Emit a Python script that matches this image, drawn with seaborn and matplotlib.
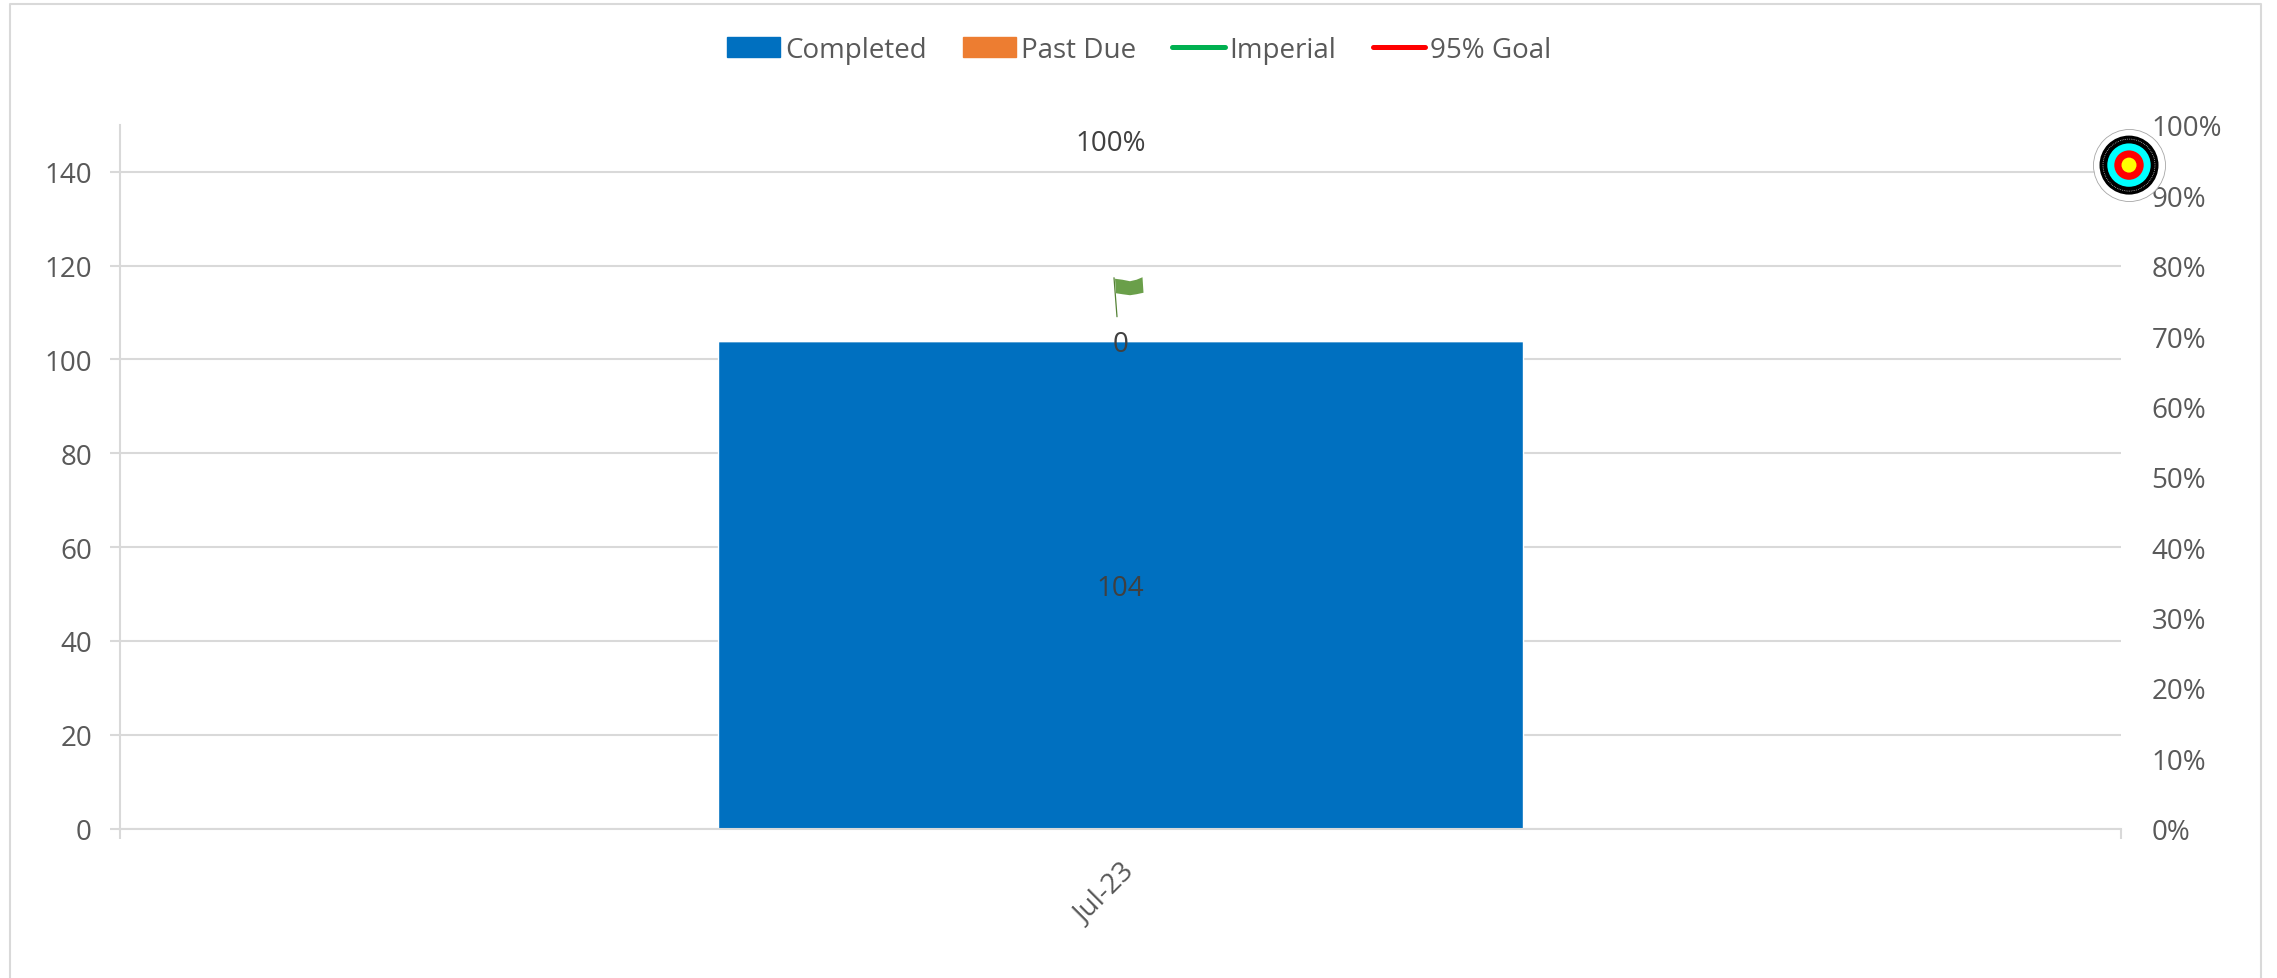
import seaborn as sns
import pandas as pd
from matplotlib import pyplot as plt
from matplotlib.lines import Line2D
from matplotlib.patches import Patch, Polygon
from matplotlib.transforms import Affine2D

# datos
months = ['Jul-23']
completed = [104]
past_due = [0]
imperial = [1.00]
goal = [0.943]
left_ticks = [0, 20, 40, 60, 80, 100, 120, 140]
right_ticks = [0, .1, .2, .3, .4, .5, .6, .7, .8, .9, 1]

W, H = 2277, 979
GRIS = '#D9D9D9'
TXT = '#595959'
LBL = '#404040'
FS = 20

sns.set_theme(style='white')
plt.rcParams['font.family'] = ['Open Sans', 'DejaVu Sans']

df = pd.DataFrame({'month': months, 'completed': completed, 'past_due': past_due})

fig = plt.figure(figsize=(W / 100, H / 100), dpi=100)
ax = fig.add_axes([120 / W, 1 - 829.5 / H, 2001 / W, 703.5 / H])

sns.barplot(data=df, x='month', y='completed', color='#0070C0', width=0.402, saturation=1, ax=ax, zorder=2)
sns.barplot(data=df, x='month', y='past_due', bottom=df['completed'], color='#ED7D31', width=0.402,
            saturation=1, ax=ax, zorder=2)

ax.set_xlim(-0.5, 0.5)
ax.set_ylim(0, 150)
ax.set_yticks(left_ticks)
ax.set_xlabel('')
ax.set_ylabel('')
ax.set_axisbelow(True)
ax.yaxis.grid(True, color=GRIS, lw=1.5)
ax.xaxis.grid(False)
ax.tick_params(axis='y', left=True, length=7.2, width=1.5, color=GRIS, pad=13, labelsize=FS, labelcolor=TXT)
ax.tick_params(axis='x', bottom=False, pad=15, labelsize=FS, labelcolor=TXT)
plt.setp(ax.get_xticklabels(), rotation=45, ha='right', rotation_mode='anchor')
# marcas del eje x en los extremos
ax.set_xticks([-0.5, 0.5], minor=True)
ax.tick_params(axis='x', which='minor', bottom=True, length=7.2, width=1.5, color=GRIS)
for s in ['top', 'right']:
    ax.spines[s].set_visible(False)
for s in ['left', 'bottom']:
    ax.spines[s].set_color(GRIS)
    ax.spines[s].set_linewidth(1.5)

ax2 = ax.twinx()
ax2.set_ylim(0, 1)
ax2.set_yticks(right_ticks)
ax2.set_yticklabels([f'{int(round(v * 100))}%' for v in right_ticks])
ax2.tick_params(axis='y', right=False, pad=16, labelsize=FS, labelcolor=TXT)
ax2.grid(False)
for s in ax2.spines.values():
    s.set_visible(False)

# etiquetas de datos, corridas un poco para abajo
def etiqueta(eje, x, y, txt):
    eje.annotate(txt, (x, y), xytext=(0, -2.5), textcoords='offset points', ha='center', va='center',
                 fontsize=FS, color=LBL, zorder=8)

etiqueta(ax2, 0, completed[0] / 2 / 150, str(completed[0]))
etiqueta(ax2, 0, (completed[0] + past_due[0]) / 150, str(past_due[0]))
etiqueta(ax2, -0.005, imperial[0] - 0.02, f'{int(imperial[0] * 100)}%')

# banderita arriba de la barra, en pixeles desde el tope
tope = ax.transData.transform((0, completed[0] + past_due[0]))
flag_tr = Affine2D().translate(*tope)
flag = [(-5.5, 62), (2, 61), (9.5, 59.5), (16, 61), (22, 63.5), (23, 48), (16, 46.5), (9.5, 45.5), (2, 46.5), (-4.5, 47.5)]
fig.add_artist(Polygon(flag, closed=True, facecolor='#6A9F4A', edgecolor='none', transform=flag_tr))
fig.add_artist(Line2D([-6.5, -3.5], [63, 24], color='#548235', lw=0.9, transform=flag_tr))

# diana en el objetivo, un poco afuera del eje
rings = [(36, 'white', '#A6A6A6', 0.6), (29.5, 'black', 'none', 0), (26, 'black', 'white', 0.5),
         (21.7, '#00FFFF', 'none', 0), (14.7, '#FF0000', 'none', 0), (7.5, '#FFFF00', 'none', 0)]
goal_x = 0.5 + 8 / 2001
for i, (r, fc, ec, lw) in enumerate(rings):
    d = 2 * r * 0.72
    ax2.scatter([goal_x], goal, s=d ** 2, facecolor=fc, edgecolor=ec, linewidth=lw, clip_on=False,
                zorder=6 + i * 0.1, linestyle=':' if ec == 'white' else '-')

handles = [Patch(color='#0070C0', label='Completed'), Patch(color='#ED7D31', label='Past Due'),
           Line2D([], [], color='#00B050', lw=3.6, solid_capstyle='round', label='Imperial'),
           Line2D([], [], color='#FF0000', lw=3.6, solid_capstyle='round', label='95% Goal')]
fig.legend(handles=handles, loc='center', bbox_to_anchor=(1139.5 / W, 1 - 51 / H), ncol=4, frameon=False,
           fontsize=20, labelcolor=TXT, handlelength=1.9, handleheight=0.72, handletextpad=0.18,
           columnspacing=1.3, borderpad=0)

# borde del area del grafico, abajo no se ve
fig.add_artist(Line2D([10 / W, 10 / W, 2261 / W, 2261 / W], [0, 1 - 5 / H, 1 - 5 / H, 0], color=GRIS, lw=1.5))

fig.savefig('out.png', dpi=100, facecolor='white')
